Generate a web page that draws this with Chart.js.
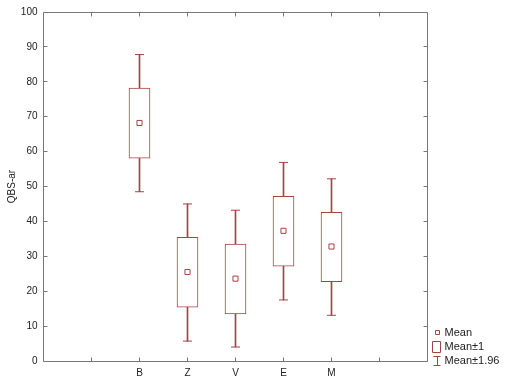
<!DOCTYPE html>
<html>
<head>
<meta charset="utf-8">
<script src="https://cdn.jsdelivr.net/npm/chart.js@4.4.1/dist/chart.umd.min.js"></script>
<style>
  html, body { margin: 0; background: #fff; }
  #wrap { width: 511px; height: 385px; }
</style>
</head>
<body>
<div id="wrap"><canvas id="chartBox"></canvas></div>
<script>
// groups and their slot on the x axis (slots 1 and 7 are empty)
const groups = ["B", "Z", "V", "E", "M"];
const groupPos = [2, 3, 4, 5, 6];
const xTickPos = [1, 2, 3, 4, 5, 6, 7];

// values
const means = [68.2, 25.5, 23.6, 37.3, 32.8];
const sdLow = [58.1, 15.4, 13.5, 27.2, 22.7];
const sdHigh = [78.2, 35.4, 33.5, 47.2, 42.6];
const ciLow = [48.5, 5.7, 4.0, 17.5, 13.1];
const ciHigh = [87.8, 45.0, 43.2, 56.9, 52.2];

const yTicks = [0, 10, 20, 30, 40, 50, 60, 70, 80, 90, 100];

const RED = "#a24444";
const FRAME = "#777777";

Chart.defaults.font.family = "Arial, 'Liberation Sans', sans-serif";
Chart.defaults.font.size = 10;
Chart.defaults.color = "#222";

// frame, inside ticks and legend
const framePlugin = {
  id: "frame",
  afterDraw(chart) {
    const { ctx, chartArea: a, scales } = chart;
    const L = Math.floor(a.left) + 0.5, R = Math.floor(a.right) + 0.5;
    const T = Math.floor(a.top) + 0.5, B = Math.floor(a.bottom) + 0.5;
    ctx.save();
    ctx.strokeStyle = FRAME;
    ctx.lineWidth = 1;
    ctx.beginPath();
    ctx.rect(L, T, R - L, B - T);
    ctx.stroke();

    ctx.beginPath();
    yTicks.forEach(v => {
      const y = Math.floor(scales.y.getPixelForValue(v)) + 0.5;
      ctx.moveTo(L, y); ctx.lineTo(L + 4, y);
      ctx.moveTo(R, y); ctx.lineTo(R - 4, y);
    });
    xTickPos.forEach(v => {
      const x = Math.floor(scales.x.getPixelForValue(v)) + 0.5;
      ctx.moveTo(x, T); ctx.lineTo(x, T + 4);
      ctx.moveTo(x, B); ctx.lineTo(x, B - 4);
    });
    ctx.stroke();

    // legend
    const lx = R + 10;
    ctx.strokeStyle = RED;
    ctx.beginPath();
    ctx.rect(lx - 2, 330.5, 4, 4);
    ctx.stroke();
    ctx.beginPath();
    ctx.rect(lx - 5, 341.5, 8, 11);
    ctx.stroke();
    ctx.beginPath();
    ctx.moveTo(lx - 4, 356.5); ctx.lineTo(lx + 3, 356.5);
    ctx.moveTo(lx, 356.5); ctx.lineTo(lx, 365.5);
    ctx.moveTo(lx - 4, 365.5); ctx.lineTo(lx + 3, 365.5);
    ctx.stroke();

    ctx.fillStyle = "#222";
    ctx.font = "11px Arial, 'Liberation Sans', sans-serif";
    ctx.textBaseline = "middle";
    ctx.textAlign = "left";
    ctx.fillText("Mean", lx + 7, 333);
    ctx.fillText("Mean\u00b11", lx + 7, 347);
    ctx.fillText("Mean\u00b11.96", lx + 7, 361);
    ctx.restore();
  }
};

const ctx = document.getElementById("chartBox").getContext("2d");

new Chart(ctx, {
  type: "bar",
  data: {
    datasets: [
      {
        type: "scatter",
        label: "Mean",
        data: groupPos.map((x, i) => ({ x: x, y: means[i] })),
        pointStyle: "rect",
        radius: 3.6,
        borderWidth: 1,
        borderColor: RED,
        backgroundColor: "#fff",
        order: 0
      },
      {
        label: "Mean±1",
        data: groupPos.map((x, i) => ({ x: x, y: [sdLow[i], sdHigh[i]] })),
        backgroundColor: "#fff",
        borderColor: RED,
        borderWidth: 1,
        borderSkipped: false,
        barThickness: 21,
        grouped: false,
        order: 1
      },
      {
        type: "scatter",
        label: "caps",
        data: groupPos.flatMap((x, i) => [{ x: x, y: ciLow[i] }, { x: x, y: ciHigh[i] }]),
        pointStyle: "line",
        radius: 4.5,
        borderWidth: 1,
        borderColor: RED,
        order: 2
      },
      {
        label: "Mean±1.96",
        data: groupPos.map((x, i) => ({ x: x, y: [ciLow[i], ciHigh[i]] })),
        backgroundColor: RED,
        borderWidth: 0,
        barThickness: 1,
        grouped: false,
        order: 3
      }
    ]
  },
  options: {
    responsive: true,
    maintainAspectRatio: false,
    animation: false,
    events: [],
    layout: { padding: { top: 10, right: 83.5, left: 0.5, bottom: 0 } },
    plugins: {
      legend: { display: false },
      tooltip: { enabled: false }
    },
    scales: {
      x: {
        type: "linear",
        offset: false,
        min: 0,
        max: 8,
        grid: { display: false, drawTicks: false },
        border: { display: false },
        afterBuildTicks: s => { s.ticks = xTickPos.map(v => ({ value: v })); },
        afterFit: s => { s.height = 24; },
        ticks: {
          padding: 6,
          maxRotation: 0,
          autoSkip: false,
          callback: v => {
            const i = groupPos.indexOf(v);
            return i >= 0 ? groups[i] : "";
          }
        }
      },
      y: {
        min: 0,
        max: 100,
        grid: { display: false, drawTicks: false },
        border: { display: false },
        afterBuildTicks: s => { s.ticks = yTicks.map(v => ({ value: v })); },
        afterFit: s => { s.width = 43; },
        ticks: { padding: 6 },
        title: {
          display: true,
          text: "QBS-ar",
          padding: { top: 6, bottom: 0 },
          font: { size: 10 }
        }
      }
    }
  },
  plugins: [framePlugin]
});
</script>
</body>
</html>
